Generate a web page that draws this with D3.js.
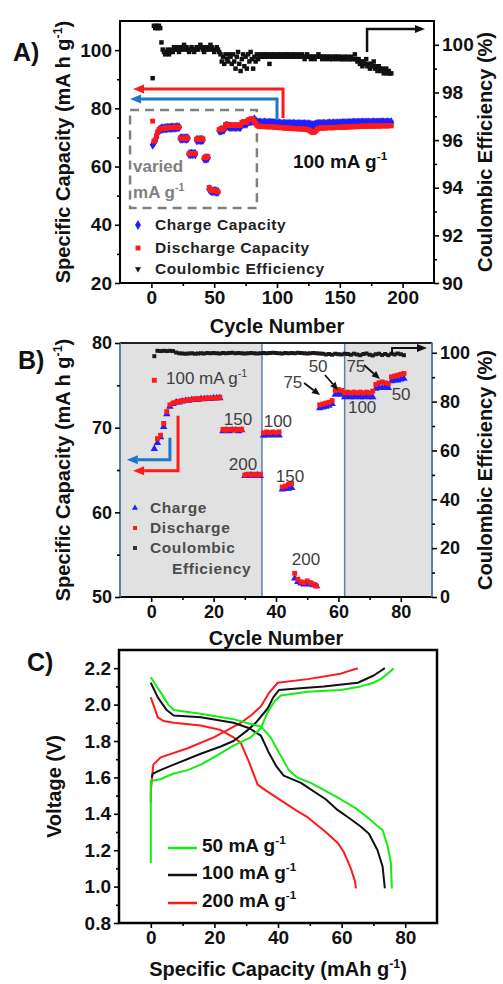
<!DOCTYPE html>
<html>
<head>
<meta charset="utf-8">
<script src="https://cdn.jsdelivr.net/npm/d3@7"></script>
<style>
  body { margin: 0; background: #fff; }
  svg { display: block; }
</style>
</head>
<body>
<svg id="fig" width="503" height="984"></svg>
<script>
// ---------------- data ----------------
// Rate test, cycles 1-81 (mA h g-1)
const rateCharge = [
  67.5, 68.2, 68.9, 70.1, 71.6, 72.5, 72.8, 73.0, 73.0, 73.1, 73.2, 73.2, 73.3, 73.3, 73.3, 73.4, 73.4, 73.4, 73.4, 73.5, 73.5, 73.5,
  69.6, 69.7, 69.6, 69.7, 69.7, 69.6, 69.7,
  64.3, 64.3, 64.4, 64.3, 64.4, 64.3,
  69.1, 69.1, 69.2, 69.1, 69.2, 69.1,
  62.7, 62.8, 62.8, 62.9,
  52.2, 51.8, 51.6, 51.5, 51.6, 51.5, 51.4, 51.3,
  72.3, 72.4, 72.5, 72.6, 72.8,
  73.9, 74.0, 73.9,
  73.6, 73.7, 73.6, 73.6, 73.7, 73.6, 73.6, 73.7, 73.6, 73.6,
  74.6, 74.7, 74.7, 74.8, 74.7,
  75.5, 75.6, 75.6, 75.7, 75.8
];
const rateDischarge = [
  75.6, 68.7, 69.1, 70.5, 71.9, 72.7, 72.9, 73.0, 73.1, 73.2, 73.2, 73.3, 73.3, 73.4, 73.4, 73.4, 73.4, 73.5, 73.5, 73.5, 73.5, 73.6,
  69.8, 69.7, 69.8, 69.8, 69.7, 69.8, 69.8,
  64.4, 64.5, 64.4, 64.5, 64.4, 64.5,
  69.4, 69.5, 69.4, 69.5, 69.4, 69.5,
  63.0, 63.1, 63.3, 63.4,
  52.8, 52.1, 51.8, 51.7, 51.9, 51.7, 51.5, 51.3,
  72.7, 72.8, 72.9, 73.0, 73.2,
  74.4, 74.5, 74.4,
  74.1, 74.2, 74.1, 74.2, 74.1, 74.2, 74.1, 74.2, 74.1, 74.3,
  75.1, 75.3, 75.4, 75.3, 75.2,
  76.0, 76.1, 76.2, 76.3, 76.4
];
// Long-term cycling at 100 mA g-1, cycles 82-191
const longCharge = [
  76.2, 75.7, 75.3,
  75.1, 75.0, 75.1, 74.9, 75.0, 75.1, 75.0, 74.9, 75.0, 75.0, 74.9, 75.0, 74.9, 74.8, 74.9, 74.8,
  74.7, 74.8, 74.7, 74.6, 74.7, 74.7, 74.6, 74.7, 74.6, 74.7, 74.6, 74.6, 74.7, 74.6, 74.5, 74.6, 74.6, 74.5, 74.6, 74.5,
  74.5, 74.6, 74.5, 74.4, 74.5, 74.4, 74.3, 74.2, 74.1, 74.3,
  74.5, 74.6, 74.7, 74.6, 74.7, 74.6, 74.7, 74.7, 74.6, 74.7, 74.7, 74.8, 74.7, 74.7, 74.8, 74.7, 74.8, 74.8, 74.7, 74.8,
  74.8, 74.9, 74.8, 74.9, 74.9, 74.8, 74.9, 75.0, 74.9, 75.0,
  75.0, 75.1, 75.0, 75.0, 75.1, 75.0, 75.1, 75.1, 75.0, 75.1, 75.1, 75.0, 75.1, 75.1, 75.0, 75.1, 75.2, 75.1, 75.1, 75.0,
  75.1, 75.2, 75.1, 75.1, 75.2, 75.1, 75.1, 75.2, 75.1, 75.1, 75.2
];
const longDischarge = [
  75.4, 74.8, 74.2,
  73.9, 73.8, 73.9, 73.7, 73.8, 73.8, 73.7, 73.6, 73.7, 73.8, 73.6, 73.7, 73.6, 73.5, 73.6, 73.5,
  73.4, 73.5, 73.3, 73.4, 73.3, 73.2, 73.3, 73.2, 73.1, 73.2, 73.1, 73.2, 73.0, 73.1, 73.0, 73.1, 72.9, 73.0, 72.9, 73.0,
  72.9, 72.8, 72.9, 72.7, 72.6, 72.4, 72.1, 71.8, 71.7, 71.9,
  72.3, 72.8, 73.1, 73.2, 73.3, 73.2, 73.3, 73.2, 73.3, 73.4, 73.3, 73.4, 73.3, 73.4, 73.3, 73.4, 73.5, 73.4, 73.5, 73.4,
  73.5, 73.6, 73.5, 73.6, 73.5, 73.6, 73.7, 73.6, 73.7, 73.6,
  73.7, 73.8, 73.7, 73.8, 73.7, 73.8, 73.9, 73.8, 73.9, 73.8, 73.9, 73.8, 73.9, 74.0, 73.9, 73.8, 73.9, 74.0, 73.9, 74.0,
  73.9, 74.0, 73.9, 74.0, 74.1, 74.0, 73.9, 74.0, 74.1, 74.0, 74.0
];
// Coulombic efficiency (%), cycles 1-191
const coulombicEff = [
  98.6,
  100.8, 100.7, 100.8, 100.7, 100.8, 100.7,
  100.1, 99.8,
  99.7, 99.6, 99.7, 99.8, 99.6, 99.7, 99.8, 99.7,
  99.9, 99.8, 99.9, 99.8, 99.7, 99.9, 99.8, 99.9, 100.0, 99.8, 99.9, 99.8, 99.7, 99.8, 99.9, 99.8, 99.7, 99.8, 99.9, 99.8,
  99.9, 100.0, 99.9, 99.8, 99.7, 99.9, 99.8, 99.9, 99.8, 100.0, 99.9, 99.8, 99.7, 99.8, 99.9, 99.8, 99.7,
  99.6, 99.3, 99.5, 99.2, 99.6, 99.4, 99.3, 99.6, 99.5, 99.2,
  99.6, 99.3, 99.0, 99.5, 99.7, 99.2, 98.9, 99.4, 99.6, 99.1, 99.5, 99.0, 99.6, 99.3, 99.7, 99.4, 99.0, 99.5, 99.3, 99.6, 99.4, 99.5,
  99.6, 99.5, 99.6, 99.5, 99.6, 99.5, 99.6, 99.2, 99.5, 99.6,
  99.5, 99.6, 99.5, 99.5, 99.6, 99.5, 99.6, 99.5, 99.5, 99.6,
  99.5, 99.6, 99.6, 99.5, 99.5, 99.6, 99.5, 99.6, 99.5, 99.5,
  99.6, 99.5, 99.5, 99.6, 99.5, 99.4, 99.5, 99.6, 99.5, 99.5,
  99.4, 99.5, 99.5, 99.4, 99.5, 99.5, 99.6, 99.5, 99.5, 99.4,
  99.5, 99.5, 99.4, 99.5, 99.5, 99.4, 99.5, 99.4, 99.5, 99.5,
  99.4, 99.5, 99.5, 99.4, 99.5, 99.4, 99.4, 99.5, 99.4, 99.5,
  99.4, 99.4, 99.5, 99.4, 99.4, 99.6, 99.4,
  99.3, 99.4, 99.2, 99.3, 99.1, 99.3, 99.2, 99.4, 99.1, 99.2, 99.0, 99.2, 99.1, 99.3, 99.0, 99.1, 98.9, 99.1, 99.0, 98.9,
  99.0, 98.8, 98.9, 99.0, 98.8, 98.9, 98.8, 98.8
];

// Galvanostatic profiles: [capacity (mAh g-1), voltage (V)]
const charge50 = [[0,1.13],[0,1.58],[3,1.59],[7,1.62],[11.6,1.64],[15.7,1.67],[19.8,1.71],[26,1.775],[31.4,1.82],[34.6,1.87],[36.8,1.96],[39,2.02],[40.9,2.05],[49.4,2.07],[59.7,2.08],[66,2.10],[70,2.12],[72.3,2.14],[74.5,2.17],[76.4,2.20]];
const discharge50 = [[0,2.15],[3,2.07],[5.5,2.00],[7.2,1.97],[15.7,1.95],[26,1.92],[30,1.90],[34.6,1.88],[37.7,1.82],[40.5,1.73],[43.4,1.64],[46,1.60],[50.3,1.57],[59.7,1.48],[64.5,1.43],[68.2,1.38],[70.8,1.34],[72.9,1.31],[74.5,1.22],[75.5,1.13],[75.8,0.99]];
const charge100 = [[0.3,1.60],[0.6,1.62],[3,1.64],[7.2,1.67],[15.7,1.73],[22,1.77],[26,1.80],[30.5,1.86],[33,1.90],[36.8,1.98],[38.5,2.04],[40.3,2.08],[47,2.09],[54.4,2.10],[65.1,2.12],[70.1,2.16],[73.6,2.20]];
const discharge100 = [[0,2.12],[2.2,2.04],[5,1.97],[7.2,1.94],[15.7,1.93],[26,1.90],[31,1.87],[34.6,1.83],[37,1.74],[39.5,1.66],[41.8,1.61],[47.2,1.57],[55,1.48],[58.8,1.42],[62.9,1.37],[66,1.33],[68.6,1.29],[71.3,1.20],[72.9,1.11],[73.6,0.99]];
const charge200 = [[0,1.46],[0,1.52],[0.5,1.62],[0.8,1.67],[3.1,1.71],[11.6,1.76],[19.8,1.82],[28.3,1.90],[31.5,1.94],[34.6,1.99],[37,2.06],[39.9,2.12],[49.4,2.14],[59.7,2.17],[65.1,2.20]];
const discharge200 = [[0,2.04],[2.2,1.93],[4,1.91],[7.2,1.90],[15.7,1.885],[22,1.86],[26,1.82],[28.3,1.79],[31,1.68],[33.6,1.56],[36,1.53],[45.6,1.42],[49.4,1.38],[55,1.30],[58.8,1.24],[60.7,1.19],[62.9,1.10],[64.2,1.03],[64.5,0.99]];

// Tick values
const ticksAx = [0, 50, 100, 150, 200], minorAx = [25, 75, 125, 175];
const ticksAy = [20, 40, 60, 80, 100], minorAy = [30, 50, 70, 90];
const ticksAy2 = [90, 92, 94, 96, 98, 100], minorAy2 = [91, 93, 95, 97, 99];
const ticksBx = [0, 20, 40, 60, 80], minorBx = [10, 30, 50, 70];
const ticksBy = [50, 60, 70, 80], minorBy = [55, 65, 75];
const ticksBy2 = [0, 20, 40, 60, 80, 100], minorBy2 = [10, 30, 50, 70, 90];
const ticksCx = [0, 20, 40, 60, 80], minorCx = [10, 30, 50, 70];
const ticksCy = [0.8, 1.0, 1.2, 1.4, 1.6, 1.8, 2.0, 2.2], minorCy = [0.9, 1.1, 1.3, 1.5, 1.7, 1.9, 2.1];

// Rate steps of the rate test (mA g-1) with label anchors [cycle, capacity]
const rateLabels = [
  {t: "150", c: 27.8, v: 70.3}, {t: "200", c: 29.4, v: 65.0},
  {t: "100", c: 40.6, v: 70.1}, {t: "150", c: 44.5, v: 63.6},
  {t: "200", c: 49.6, v: 53.8}, {t: "75", c: 45.4, v: 74.7},
  {t: "50", c: 53.5, v: 76.6}, {t: "75", c: 65.6, v: 76.6},
  {t: "100", c: 67.6, v: 71.7}, {t: "50", c: 80.1, v: 73.3}
];

// ---------------- setup ----------------
const FONT = '"Liberation Sans", Arial, Helvetica, sans-serif';
const svg = d3.select("#fig").attr("font-family", FONT);

const allCharge = rateCharge.concat(longCharge);
const allDischarge = rateDischarge.concat(longDischarge);
const cyc = i => i + 1;

const pA = {l: 120, r: 434, t: 21, b: 283};
const pB = {l: 120, r: 432, t: 343, b: 597};
const pC = {l: 119, r: 437, t: 650, b: 923};

const xA = d3.scaleLinear().domain([-25, 225]).range([pA.l, pA.r]);
const yA = d3.scaleLinear().domain([20, 110]).range([pA.b, pA.t]);
const yA2 = d3.scaleLinear().domain([90, 101]).range([pA.b, pA.t]);
const xB = d3.scaleLinear().domain([-10, 90]).range([pB.l, pB.r]);
const yB = d3.scaleLinear().domain([50, 80]).range([pB.b, pB.t]);
const yB2 = d3.scaleLinear().domain([0, 104]).range([pB.b, pB.t]);
const xC = d3.scaleLinear().domain([-10, 90]).range([pC.l, pC.r]);
const yC = d3.scaleLinear().domain([0.8, 2.3]).range([pC.b, pC.t]);

const BLUE = "#1f1fff", RED = "#ff1a1a", BLK = "#111";

function axis(gen, scale, major, minor, fmt, tx, ty, fs) {
  const a = svg.append("g").attr("transform", `translate(${tx},${ty})`);
  a.call(gen(scale).tickValues(major).tickFormat(fmt).tickSize(5).tickSizeOuter(0).tickPadding(3));
  a.select(".domain").remove();
  const m = a.append("g").call(gen(scale).tickValues(minor).tickFormat("").tickSize(3).tickSizeOuter(0));
  m.select(".domain").remove();
  a.selectAll("line").attr("stroke", "#000").attr("stroke-width", 1.6);
  a.selectAll("text").attr("font-size", fs).attr("font-weight", "bold")
    .attr("fill", "#111").attr("font-family", FONT);
  return a;
}

// text with an optional superscript part: parts = ["abc", {sup: "-1"}, ")"]
function label(x, y, parts, o) {
  const fs = o.fs;
  const t = svg.append("text")
    .attr("transform", `translate(${x},${y})` + (o.rot ? ` rotate(${o.rot})` : ""))
    .attr("text-anchor", o.anchor || "middle")
    .attr("font-size", fs)
    .attr("font-weight", o.fw || "bold")
    .attr("fill", o.fill || "#111")
    .attr("letter-spacing", o.ls || 0);
  let shift = 0;
  parts.forEach(p => {
    if (typeof p === "string") {
      t.append("tspan").attr("dy", -shift).text(p);
      shift = 0;
    } else {
      const d = -0.42 * fs;
      t.append("tspan").attr("font-size", 0.62 * fs).attr("dy", d).text(p.sup);
      shift = d;
    }
  });
  return t;
}

function arrow(pts, color, w, hl, hw) {
  const n = pts.length;
  const [x1, y1] = pts[n - 2], [x2, y2] = pts[n - 1];
  const ang = Math.atan2(y2 - y1, x2 - x1);
  const bx = x2 - hl * Math.cos(ang), by = y2 - hl * Math.sin(ang);
  const body = pts.slice(0, n - 1).concat([[bx, by]]);
  svg.append("path").attr("d", d3.line()(body)).attr("fill", "none")
    .attr("stroke", color).attr("stroke-width", w);
  const px = -Math.sin(ang) * hw / 2, py = Math.cos(ang) * hw / 2;
  svg.append("path").attr("d", `M${x2},${y2}L${bx + px},${by + py}L${bx - px},${by - py}Z`).attr("fill", color);
}

function symbols(g, data, x, y, type, size, color) {
  g.selectAll(null).data(data).join("path")
    .attr("d", d3.symbol().type(type).size(size))
    .attr("transform", d => `translate(${x(d)},${y(d)})`)
    .attr("fill", color);
}

// ================= Panel A =================
{
  const g = svg.append("g");
  // dashed box around the rate-test section
  g.append("rect")
    .attr("x", xA(-17)).attr("y", yA(79.4))
    .attr("width", xA(84) - xA(-17)).attr("height", yA(45.8) - yA(79.4))
    .attr("fill", "none").attr("stroke", "#808080").attr("stroke-width", 2.5)
    .attr("stroke-dasharray", "9,6");

  const idx = d3.range(allCharge.length);
  symbols(g, idx, i => xA(cyc(i)), i => yA(allCharge[i]), d3.symbolDiamond, 30, BLUE);
  symbols(g, idx, i => xA(cyc(i)), i => yA(allDischarge[i]), d3.symbolSquare, 24, RED);
  symbols(g, d3.range(coulombicEff.length), i => xA(cyc(i)), i => yA2(coulombicEff[i]), d3.symbolSquare, 20, BLK);

  arrow([[xA(104.8), yA(76.7)], [xA(104.8), yA(86.6)], [xA(-14.6), yA(86.6)]], RED, 3, 11, 9);
  arrow([[xA(100), yA(76.0)], [xA(100), yA(83.2)], [xA(-17), yA(83.2)]], "#1f77c9", 3, 11, 9);
  arrow([[xA(171.7), yA2(99.7)], [xA(171.7), yA2(100.66)], [xA(217.8), yA2(100.66)]], BLK, 2.5, 10, 8);

  label(xA(-14.6), yA(58.1), ["varied"], {fs: 17, anchor: "start", fill: "#808080"});
  label(xA(-14.6), yA(49.2), ["mA g", {sup: "-1"}], {fs: 17, anchor: "start", fill: "#808080"});
  label(xA(112.7), yA(59.5), ["100 mA  g", {sup: "-1"}], {fs: 19, anchor: "start"});

  // legend
  const lx = pA.l + 18, tx = pA.l + 35;
  const rows = [
    {t: "Charge Capacity", y: 230, type: d3.symbolDiamond, c: BLUE, s: 30},
    {t: "Discharge Capacity", y: 253, type: d3.symbolSquare, c: RED, s: 24},
    {t: "Coulombic Efficiency", y: 274, type: d3.symbolTriangle, c: BLK, s: 16}
  ];
  rows.forEach(r => {
    g.append("path").attr("d", d3.symbol().type(r.type).size(r.s))
      .attr("transform", `translate(${lx},${r.y - 5})` + (r.type === d3.symbolTriangle ? " rotate(180)" : ""))
      .attr("fill", r.c);
    label(tx, r.y, [r.t], {fs: 15.5, anchor: "start", fill: "#222", ls: 0.6});
  });

  svg.append("rect").attr("x", pA.l).attr("y", pA.t).attr("width", pA.r - pA.l).attr("height", pA.b - pA.t)
    .attr("fill", "none").attr("stroke", "#000").attr("stroke-width", 2);

  axis(d3.axisBottom, xA, ticksAx, minorAx, d3.format("d"), 0, pA.b, 19);
  axis(d3.axisLeft, yA, ticksAy, minorAy, d3.format("d"), pA.l, 0, 19);
  axis(d3.axisRight, yA2, ticksAy2, minorAy2, d3.format("d"), pA.r, 0, 19);

  label((pA.l + pA.r) / 2, 333, ["Cycle Number"], {fs: 20});
  label(70, (pA.t + pA.b) / 2, ["Specific Capacity (mA h g", {sup: "-1"}, ")"], {fs: 20, rot: -90});
  label(492, (pA.t + pA.b) / 2, ["Coulombic Efficiency (%)"], {fs: 20, rot: -90});
  label(13, 61, ["A)"], {fs: 25, anchor: "start"});
}

// ================= Panel B =================
{
  const g = svg.append("g");
  const gray = "#e1e1e1", edge = "#5b7fa6";
  g.append("rect").attr("x", xB(-10)).attr("y", pB.t).attr("width", xB(35.5) - xB(-10)).attr("height", pB.b - pB.t)
    .attr("fill", gray).attr("stroke", edge).attr("stroke-width", 1.5);
  g.append("rect").attr("x", xB(62)).attr("y", pB.t).attr("width", xB(90) - xB(62)).attr("height", pB.b - pB.t)
    .attr("fill", gray).attr("stroke", edge).attr("stroke-width", 1.5);

  const n = rateCharge.length;
  const idx = d3.range(n);
  symbols(g, idx, i => xB(cyc(i)), i => yB(rateCharge[i]), d3.symbolTriangle, 24, BLUE);
  symbols(g, idx, i => xB(cyc(i)), i => yB(rateDischarge[i]), d3.symbolSquare, 24, RED);
  symbols(g, idx, i => xB(cyc(i)), i => yB2(coulombicEff[i]), d3.symbolSquare, 16, "#1a1a1a");

  arrow([[xB(6.0), yB(68.8)], [xB(6.0), yB(66.2)], [xB(-7.8), yB(66.2)]], "#1f77c9", 3, 11, 9);
  arrow([[xB(8.6), yB(71.4)], [xB(8.6), yB(64.9)], [xB(-5.8), yB(64.9)]], RED, 3, 11, 9);
  arrow([[xB(77.2), yB2(99.1)], [xB(77.2), yB2(102.0)], [xB(88.4), yB2(102.0)]], BLK, 2, 10, 8);

  arrow([[xB(49.0), yB(75.27)], [xB(54.1), yB(73.86)]], BLK, 1.8, 8, 7);
  arrow([[xB(55.7), yB(76.22)], [xB(59.9), yB(74.45)]], BLK, 1.8, 8, 7);
  arrow([[xB(68.2), yB(77.4)], [xB(73.3), yB(75.75)]], BLK, 1.8, 8, 7);

  label(xB(4.74), yB(75.16), ["100 mA g", {sup: "-1"}], {fs: 17, anchor: "start", fill: "#404040", fw: "normal"});
  rateLabels.forEach(d => label(xB(d.c), yB(d.v), [d.t], {fs: 17, fill: "#404040", fw: "normal"}));

  // legend
  const lx = pB.l + 15, tx = pB.l + 30;
  const rows = [
    {t: "Charge", y: 513, type: d3.symbolTriangle, c: BLUE},
    {t: "Discharge", y: 533, type: d3.symbolSquare, c: RED},
    {t: "Coulombic", y: 553, type: d3.symbolSquare, c: "#333"}
  ];
  rows.forEach(r => {
    g.append("path").attr("d", d3.symbol().type(r.type).size(16))
      .attr("transform", `translate(${lx},${r.y - 5})`).attr("fill", r.c);
    label(tx, r.y, [r.t], {fs: 15.5, anchor: "start", fill: "#4d4d4d", ls: 0.6});
  });
  label(pB.l + 52, 574, ["Efficiency"], {fs: 15.5, anchor: "start", fill: "#4d4d4d", ls: 0.6});

  // frame: top and bottom in black, sides from the shaded panels
  svg.append("line").attr("x1", pB.l).attr("x2", pB.r).attr("y1", pB.t).attr("y2", pB.t).attr("stroke", "#222").attr("stroke-width", 2);
  svg.append("line").attr("x1", pB.l).attr("x2", pB.r).attr("y1", pB.b).attr("y2", pB.b).attr("stroke", "#000").attr("stroke-width", 2);
  svg.append("line").attr("x1", pB.l).attr("x2", pB.l).attr("y1", pB.t).attr("y2", pB.b).attr("stroke", edge).attr("stroke-width", 2);
  svg.append("line").attr("x1", pB.r).attr("x2", pB.r).attr("y1", pB.t).attr("y2", pB.b).attr("stroke", edge).attr("stroke-width", 2);

  axis(d3.axisBottom, xB, ticksBx, minorBx, d3.format("d"), 0, pB.b, 18);
  axis(d3.axisLeft, yB, ticksBy, minorBy, d3.format("d"), pB.l, 0, 18);
  axis(d3.axisRight, yB2, ticksBy2, minorBy2, d3.format("d"), pB.r, 0, 18);

  label((pB.l + pB.r) / 2, 645, ["Cycle Number"], {fs: 20});
  label(70, (pB.t + pB.b) / 2, ["Specific Capacity (mA h g", {sup: "-1"}, ")"], {fs: 20, rot: -90});
  label(492, (pB.t + pB.b) / 2, ["Coulombic Efficiency (%)"], {fs: 20, rot: -90});
  label(18, 369, ["B)"], {fs: 25, anchor: "start"});
}

// ================= Panel C =================
{
  const g = svg.append("g");
  const line = d3.line().x(d => xC(d[0])).y(d => yC(d[1]));
  const curves = [
    {d: charge200, c: "#ff1a1a"}, {d: discharge200, c: "#ff1a1a"},
    {d: charge100, c: "#111"}, {d: discharge100, c: "#111"},
    {d: charge50, c: "#11ee11"}, {d: discharge50, c: "#11ee11"}
  ];
  curves.forEach(cv => g.append("path").attr("d", line(cv.d)).attr("fill", "none")
    .attr("stroke", cv.c).attr("stroke-width", 2).attr("stroke-linejoin", "round"));

  const leg = [
    {t: "50 mA g", c: "#11ee11", y: 852},
    {t: "100 mA g", c: "#111", y: 879},
    {t: "200 mA g", c: "#ff1a1a", y: 907}
  ];
  leg.forEach(r => {
    g.append("line").attr("x1", pC.l + 49).attr("x2", pC.l + 78).attr("y1", r.y - 4).attr("y2", r.y - 4)
      .attr("stroke", r.c).attr("stroke-width", 2.5);
    label(pC.l + 83, r.y, [r.t, {sup: "-1"}], {fs: 19, anchor: "start"});
  });

  svg.append("rect").attr("x", pC.l).attr("y", pC.t).attr("width", pC.r - pC.l).attr("height", pC.b - pC.t)
    .attr("fill", "none").attr("stroke", "#000").attr("stroke-width", 2.5);

  axis(d3.axisBottom, xC, ticksCx, minorCx, d3.format("d"), 0, pC.b, 19);
  axis(d3.axisLeft, yC, ticksCy, minorCy, d3.format(".1f"), pC.l, 0, 19);

  label((pC.l + pC.r) / 2, 976, ["Specific Capacity (mAh g", {sup: "-1"}, ")"], {fs: 20});
  label(61, (pC.t + pC.b) / 2, ["Voltage (V)"], {fs: 20, rot: -90});
  label(27, 671, ["C)"], {fs: 25, anchor: "start"});
}
</script>
</body>
</html>
